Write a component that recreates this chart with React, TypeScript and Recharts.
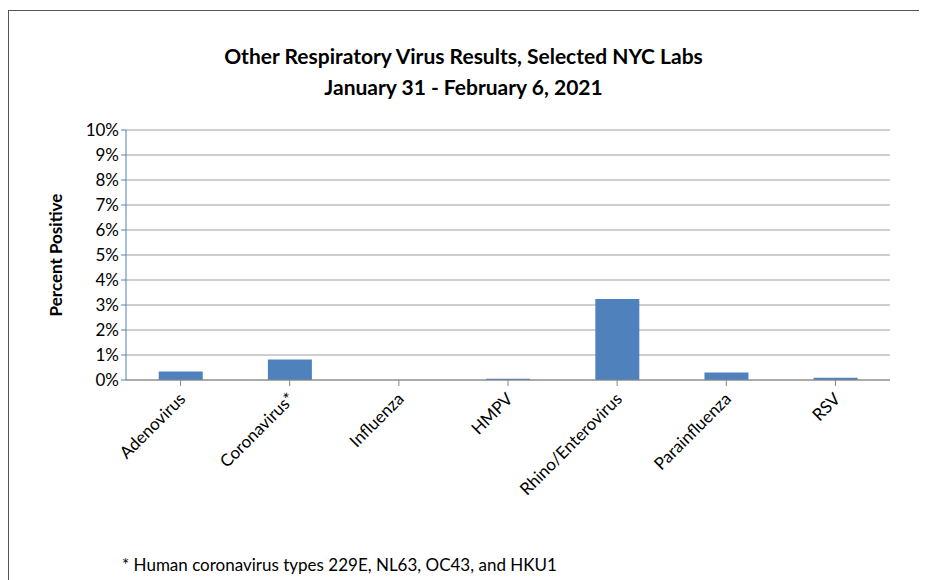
import { BarChart, Bar, XAxis, YAxis, CartesianGrid, Label } from "recharts";

const viruses = ["Adenovirus", "Coronavirus*", "Influenza", "HMPV", "Rhino/Enterovirus", "Parainfluenza", "RSV"];
const percentPositive = [0.34, 0.82, 0, 0.05, 3.24, 0.3, 0.09];
const yTicks = [0, 1, 2, 3, 4, 5, 6, 7, 8, 9, 10];

const data = viruses.map((name, i) => ({ name, value: percentPositive[i] }));

const font = "Lato, 'Open Sans', sans-serif";

const RotatedTick = (props: any) => {
  const { x, y, payload } = props;
  return (
    <g transform={`translate(${x + 6},${y + 12})`}>
      <text transform="rotate(-45)" textAnchor="end" fontSize={17} fill="#000" fontFamily={font}>
        {payload.value}
      </text>
    </g>
  );
};

export default function App() {
  return (
    <div style={{ position: "relative", width: 927, height: 580, margin: "-8px 0 0 -8px", background: "#fff", fontFamily: font }}>
      <div style={{ position: "absolute", left: 8, top: 10, width: 912, height: 580, border: "1px solid #555", boxSizing: "border-box" }} />
      <div style={{ position: "absolute", top: 40, width: "100%", textAlign: "center", fontWeight: "bold", fontSize: 21, lineHeight: "31px" }}>
        <div>Other Respiratory Virus Results, Selected NYC Labs</div>
        <div>January 31 - February 6, 2021</div>
      </div>
      <div style={{ position: "absolute", left: 122, top: 554, fontSize: 17 }}>
        * Human coronavirus types 229E, NL63, OC43, and HKU1
      </div>
      <div style={{ position: "absolute", left: 0, top: 0 }}>
        <BarChart width={927} height={580} data={data} margin={{ top: 130, right: 37, left: 66, bottom: 100 }} barCategoryGap="30%">
          <CartesianGrid vertical={false} stroke="#bfbfbf" strokeWidth={1.5} />
          <XAxis dataKey="name" interval={0} height={100} tick={<RotatedTick />} stroke="#868686" tickSize={6} />
          <YAxis
            width={60}
            domain={[0, 10]}
            ticks={yTicks}
            tickFormatter={(v: number) => `${v}%`}
            stroke="#4F81BD"
            tick={{ fill: "#000", fontSize: 17, fontFamily: font }}
            tickSize={5}
          >
            <Label value="Percent Positive" angle={-90} position="insideLeft" offset={-10} style={{ fontWeight: "bold", fontSize: 17, fill: "#000", textAnchor: "middle" }} />
          </YAxis>
          <Bar dataKey="value" fill="#4F81BD" isAnimationActive={false} />
        </BarChart>
      </div>
    </div>
  );
}
